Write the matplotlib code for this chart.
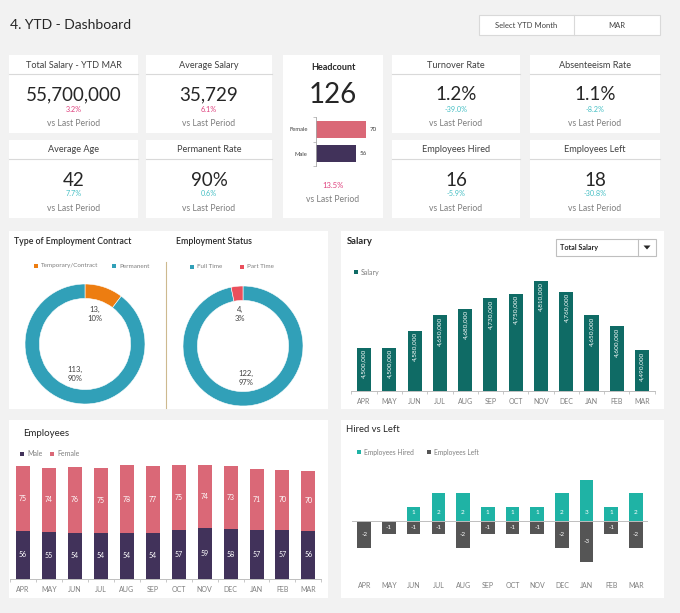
import math
import matplotlib
matplotlib.use("Agg")
import matplotlib.pyplot as plt
from matplotlib.patches import Rectangle, Polygon
from matplotlib.lines import Line2D

plt.rcParams['font.family'] = ['Lato', 'DejaVu Sans']

# ---- data ----
months = ["APR", "MAY", "JUN", "JUL", "AUG", "SEP", "OCT", "NOV", "DEC", "JAN", "FEB", "MAR"]
salary = [4500000, 4500000, 4580000, 4650000, 4680000, 4730000,
          4750000, 4810000, 4760000, 4650000, 4600000, 4490000]
male = [56, 55, 54, 54, 54, 54, 57, 59, 58, 57, 57, 56]
female = [75, 74, 76, 75, 78, 77, 75, 74, 73, 71, 70, 70]
hired = [0, 0, 1, 2, 2, 1, 1, 1, 2, 3, 1, 2]
left = [-2, -1, -1, -1, -2, -1, -1, -1, -2, -3, -1, -2]

kpi_titles = ["Total Salary - YTD MAR", "Average Salary", "Turnover Rate", "Absenteeism Rate",
              "Average Age", "Permanent Rate", "Employees Hired", "Employees Left"]
kpi_values = ["55,700,000", "35,729", "1.2%", "1.1%", "42", "90%", "16", "18"]
kpi_changes = ["3.2%", "6.1%", "-39.0%", "-8.2%", "7.7%", "0.6%", "-5.9%", "-30.8%"]
kpi_up = [True, True, False, False, False, False, False, False]

headcount = 126
headcount_change = "13.5%"
gender_labels = ["Male", "Female"]
gender_counts = [56, 70]

contract_labels = ["Temporary/Contract", "Permanent"]
contract_counts = [13, 113]
status_labels = ["Full Time", "Part Time"]
status_counts = [122, 4]

# ---- colours ----
BG = "#f2f2f2"
PINK = "#de3f7c"
TEAL_TXT = "#45bfc4"
GREY = "#7f7f7f"
DARK = "#333333"
C_FEMALE = "#da6877"
C_MALE = "#41325a"
C_TEAL = "#31a0b8"
C_ORANGE = "#ed7d11"
C_RED = "#ea4f5c"
C_SAL = "#0f6b65"
C_HIRED = "#1fb3a5"
C_LEFT = "#555555"

W, H = 680, 613
fig = plt.figure(figsize=(W / 100, H / 100), dpi=100, facecolor=BG)


def fx(x):
    return x / W


def fy(y):
    return 1 - y / H


def box(x0, y0, x1, y1, fc="white", ec="none", lw=0.8, z=-2):
    fig.add_artist(Rectangle((fx(x0), fy(y1)), (x1 - x0) / W, (y1 - y0) / H,
                             transform=fig.transFigure, facecolor=fc,
                             edgecolor=ec, linewidth=lw, zorder=z))


def line(x0, y0, x1, y1, color="#d9d9d9", lw=0.8, z=-1):
    fig.add_artist(Line2D([fx(x0), fx(x1)], [fy(y0), fy(y1)], transform=fig.transFigure,
                          color=color, linewidth=lw, zorder=z))


def txt(x, y, s, size=7, color=DARK, ha="center", va="center", **kw):
    fig.text(fx(x), fy(y), s, fontsize=size, color=color, ha=ha, va=va, **kw)


def swatch(x, y, color, label, size=4.8):
    box(x - 2, y - 2, x + 2, y + 2, fc=color, z=1)
    txt(x + 5, y, label, size=size, color=GREY, ha="left")


def axes_px(x0, y0, x1, y1):
    a = fig.add_axes([fx(x0), fy(y1), (x1 - x0) / W, (y1 - y0) / H])
    a.set_facecolor("none")
    return a


def month_axis(a, pad, ticks=True):
    for sp in ["top", "right", "left"]:
        a.spines[sp].set_visible(False)
    a.spines["bottom"].set_visible(ticks)
    a.spines["bottom"].set_color("#bfbfbf")
    a.spines["bottom"].set_linewidth(0.7)
    a.set_yticks([])
    a.set_xticks(range(len(months)))
    a.set_xticklabels(months, fontsize=5, color=GREY)
    a.tick_params(axis="x", length=0, pad=pad)
    if ticks:
        a.set_xticks([i - 0.5 for i in range(len(months) + 1)], minor=True)
        a.tick_params(axis="x", which="minor", length=2.5, color="#bfbfbf", width=0.6)


# ---- header ----
txt(10, 25, "4. YTD - Dashboard", size=10, color="#262626", ha="left")
box(479, 15, 660, 35, ec="#d9d9d9")
line(574, 15, 574, 35, z=1)
txt(526, 25, "Select YTD Month", size=5.5, color="#404040")
txt(617, 25, "MAR", size=5.5, color="#404040")

# ---- KPI cards ----
card_x = [(9, 138), (146, 272), (392, 520), (530, 660)]
card_y = [(55, 133), (140, 218)]
for i, (t, v, c, up) in enumerate(zip(kpi_titles, kpi_values, kpi_changes, kpi_up)):
    x0, x1 = card_x[i % 4]
    y0, y1 = card_y[i // 4]
    cx = (x0 + x1) / 2
    box(x0, y0, x1, y1)
    line(x0, y0 + 19, x1, y0 + 19)
    txt(cx, y0 + 10, t, size=6.6, color="#404040")
    txt(cx, y0 + 40, v, size=13.5, color="#262626")
    txt(cx, y0 + 54, c, size=5.2, color=PINK if up else TEAL_TXT)
    txt(cx, y0 + 69, "vs Last Period", size=6.2, color=GREY)

# ---- headcount card ----
box(283, 55, 383, 218)
txt(333, 67, "Headcount", size=6.5, color="#262626", weight="bold")
txt(333, 95, str(headcount), size=20, color="#262626")
txt(333, 186, headcount_change, size=5.5, color=PINK)
txt(333, 199, "vs Last Period", size=6.2, color=GREY)
axh = axes_px(316, 117, 380, 166)
axh.barh(range(len(gender_counts)), gender_counts, height=0.7,
         color=[C_MALE, C_FEMALE])
axh.set_xlim(0, 64 / (50 / 70))
axh.set_ylim(-0.52, 1.52)
for sp in ["top", "right", "bottom"]:
    axh.spines[sp].set_visible(False)
axh.spines["left"].set_color("#a6a6a6")
axh.spines["left"].set_linewidth(0.6)
axh.set_xticks([])
axh.set_yticks(range(len(gender_labels)))
axh.set_yticklabels(gender_labels, fontsize=4.2, color="#404040")
axh.tick_params(axis="y", length=0, pad=6)
axh.set_yticks([-0.5, 0.5, 1.5], minor=True)
axh.tick_params(axis="y", which="minor", length=2, color="#a6a6a6", width=0.5)
for i, v in enumerate(gender_counts):
    axh.text(v + 5, i, str(v), fontsize=4.5, color="#404040", va="center", ha="left")

# ---- donuts card ----
box(9, 231, 328, 409)
txt(14, 241, "Type of Employment Contract", size=6.3, color="#262626", ha="left", weight="semibold")
txt(176, 241, "Employment Status", size=6.3, color="#262626", ha="left", weight="semibold")
line(166, 262, 166, 408, color="#cdb98f", z=1)
swatch(36, 266, C_ORANGE, contract_labels[0], size=4.5)
swatch(114, 266, C_TEAL, contract_labels[1], size=4.5)
swatch(192, 267, C_TEAL, status_labels[0], size=4.5)
swatch(242, 267, C_RED, status_labels[1], size=4.5)


def donut(cx, cy, r, counts, colors):
    a = axes_px(cx - r, cy - r, cx + r, cy + r)
    a.pie(counts, colors=colors, startangle=90, counterclock=False, radius=1,
          wedgeprops=dict(width=0.24, edgecolor="white", linewidth=0.4))
    a.set_xlim(-1, 1)
    a.set_ylim(-1, 1)
    a.set_aspect("equal")
    total = sum(counts)
    start = 90.0
    for n in counts:
        mid = start - n / total * 180
        start -= n / total * 360
        rr = 0.53
        a.text(rr * math.cos(math.radians(mid)), rr * math.sin(math.radians(mid)),
               "{},\n{:.0f}%".format(n, n / total * 100), fontsize=5.5, color="#404040",
               ha="center", va="center", linespacing=1.3)
    return a


donut(85, 344, 60, contract_counts, [C_ORANGE, C_TEAL])
donut(243, 346, 60, status_counts, [C_TEAL, C_RED])

# ---- salary card ----
box(341, 231, 664, 409)
txt(347, 241, "Salary", size=6.8, color="#262626", ha="left", weight="bold")
box(556, 239, 656, 256, ec="#bfbfbf", z=1)
line(638, 239, 638, 256, color="#bfbfbf", z=2)
fig.add_artist(Polygon([[fx(643.5), fy(245.5)], [fx(650.5), fy(245.5)], [fx(647), fy(249.5)]],
                       closed=True, transform=fig.transFigure, facecolor="#262626",
                       edgecolor="none", zorder=3))
txt(560, 247.5, "Total Salary", size=5.2, color="#262626", ha="left", weight="bold")
swatch(356, 272, C_SAL, "Salary", size=5)

x = range(len(months))
axs = axes_px(351.4, 261.4, 654.7, 391)
axs.bar(x, salary, width=0.56, color=C_SAL)
axs.set_xlim(-0.5, len(months) - 0.5)
axs.set_ylim(4300000, 4900000)
for i, v in enumerate(salary):
    axs.text(i, v - 6000, "{:,}".format(v), rotation=90, fontsize=4.6, color="white",
             ha="center", va="top")
month_axis(axs, 5)

# ---- employees card ----
box(9, 420, 328, 598)
txt(23, 433, "Employees", size=7, color="#262626", ha="left")
swatch(22, 454, C_MALE, "Male", size=5)
swatch(52, 454, C_FEMALE, "Female", size=5)
axe = axes_px(10, 458.6, 321.4, 579)
axe.bar(x, male, width=0.54, color=C_MALE)
axe.bar(x, female, width=0.54, bottom=male, color=C_FEMALE)
axe.set_xlim(-0.5, len(months) - 0.5)
axe.set_ylim(0, 140)
for i in x:
    axe.text(i, male[i] / 2, str(male[i]), fontsize=5, color="white", ha="center", va="center")
    axe.text(i, male[i] + female[i] / 2, str(female[i]), fontsize=5, color="white",
             ha="center", va="center")
month_axis(axe, 5)

# ---- hired vs left card ----
box(341, 420, 664, 598)
txt(346, 429, "Hired vs Left", size=6.8, color="#262626", ha="left")
swatch(359, 452, C_HIRED, "Employees Hired", size=4.8)
swatch(429, 452, C_LEFT, "Employees Left", size=4.8)
axl = axes_px(351.9, 466, 648.3, 575.5)
axl.bar(x, hired, width=0.55, color=C_HIRED)
axl.bar(x, left, width=0.55, color=C_LEFT)
axl.set_xlim(-0.5, len(months) - 0.5)
axl.set_ylim(-4, 4)
axl.axhline(0, color="#bfbfbf", linewidth=0.7)
for i in x:
    if hired[i]:
        axl.text(i, 0.6, str(hired[i]), fontsize=4.6, color="white", ha="center", va="center")
    axl.text(i, min(-0.5, left[i] / 2), str(left[i]), fontsize=4.6,
             color="white", ha="center", va="center")
month_axis(axl, 5, ticks=False)

fig.savefig("out.png", dpi=100, facecolor=BG)
